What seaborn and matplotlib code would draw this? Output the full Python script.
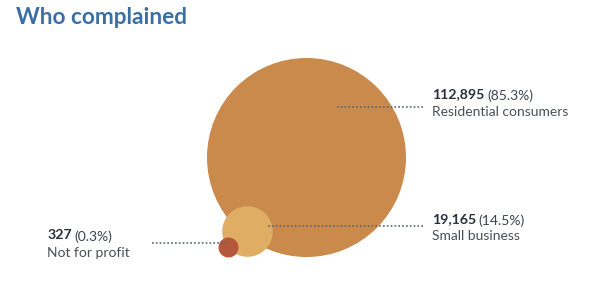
import matplotlib
matplotlib.use("Agg")
import matplotlib.pyplot as plt
import seaborn as sns
import pandas as pd

# ---- data ----
categories = ["Residential consumers", "Small business", "Not for profit"]
counts = [112895, 19165, 327]
percents = [85.3, 14.5, 0.3]

# ---- style / layout ----
colors = ["#C98A4B", "#DFAE64", "#B5573A"]
radius_px = [99.5, 25.3, 10.0]
center_x_px = [306.0, 247.3, 228.3]
baseline_px = 256.7
W, H, DPI = 600, 286, 100

sns.set_theme(style="white")
plt.rcParams["font.family"] = ["Lato", "DejaVu Sans"]

fig = plt.figure(figsize=(W / DPI, H / DPI), dpi=DPI)
ax = fig.add_axes([0, 0, 1, 1])
ax.set_xlim(0, W)
ax.set_ylim(H, 0)
ax.axis("off")

df = pd.DataFrame({
    "category": categories,
    "count": counts,
    "x": center_x_px,
    "y": [baseline_px - r for r in radius_px],
    "s": [(2 * r * 72 / DPI) ** 2 for r in radius_px],
})

for i, row in df.iterrows():
    sns.scatterplot(x=[row["x"]], y=[row["y"]], s=row["s"], color=colors[i],
                    linewidth=0, ax=ax, legend=False, zorder=2 + i)

# leader lines
leaders = [((337, 423), 107.3), ((268, 423), 226.0), ((152, 228), 243.3)]
for (x0, x1), y in leaders:
    ax.plot([x0, x1], [y, y], color="#5E6570", lw=1.2, linestyle=(0, (1, 1.3)),
            zorder=10, solid_capstyle="butt", dash_capstyle="butt")

# labels
label_pos = [(432, 98.3, 116.0), (432, 222.7, 240.0), (47.3, 239.0, 256.7)]
fig.canvas.draw()
renderer = fig.canvas.get_renderer()
for i, (x, yb, yl) in enumerate(label_pos):
    t1 = ax.text(x, yb, f"{counts[i]:,}", fontsize=10.2, fontweight="bold",
                 color="#2A303A", va="baseline", ha="left")
    bb = t1.get_window_extent(renderer=renderer)
    x2 = bb.x1 + 2.5
    ax.text(x2, H - bb.y0, f"({percents[i]}%)", fontsize=10, color="#3B4250",
            va="baseline", ha="left")
    ax.text(x, yl, categories[i], fontsize=10, color="#4A4F57",
            va="baseline", ha="left")

ax.text(16, 24, "Who complained", fontsize=16.3, fontweight="bold",
        color="#3A6EA5", va="baseline", ha="left")

fig.savefig("out.png", dpi=DPI)
